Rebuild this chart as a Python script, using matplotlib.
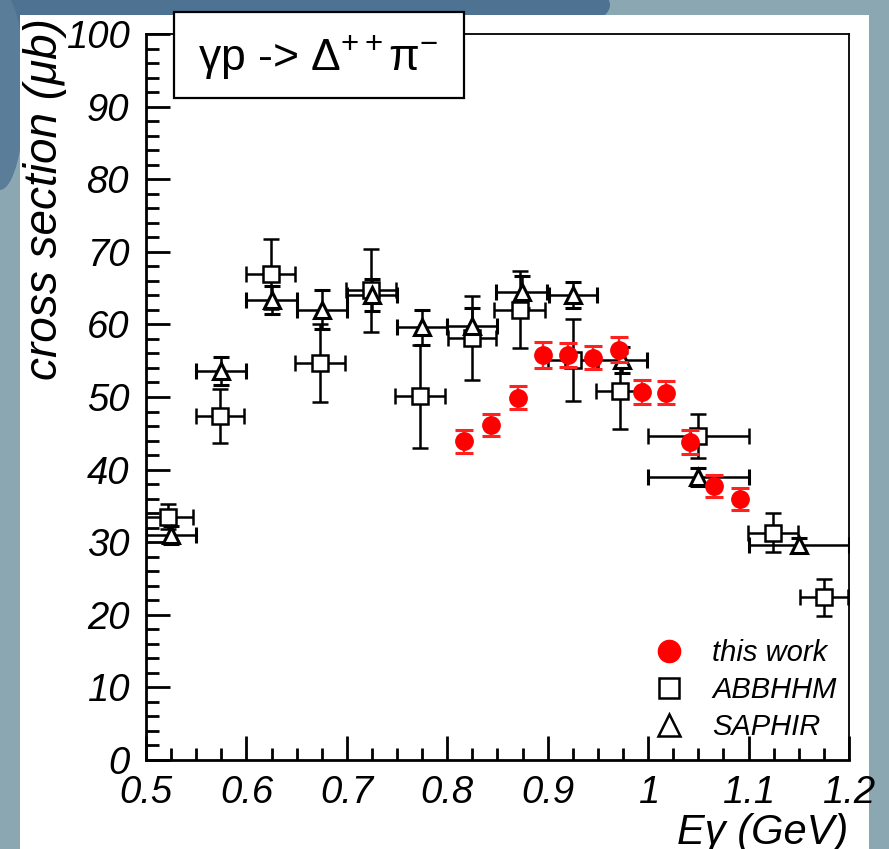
import matplotlib
matplotlib.use("Agg")
import matplotlib.pyplot as plt
from matplotlib.patches import Rectangle, Ellipse
from matplotlib.lines import Line2D
from matplotlib.ticker import MultipleLocator
import numpy as np

plt.rcParams['font.family'] = ['Liberation Sans', 'DejaVu Sans']
plt.rcParams['mathtext.fontset'] = 'custom'
plt.rcParams['mathtext.rm'] = 'Liberation Sans'
plt.rcParams['mathtext.it'] = 'Liberation Sans:italic'

# this work (red)
work_e = [0.817, 0.844, 0.870, 0.895, 0.920, 0.945, 0.971, 0.994, 1.018, 1.042, 1.066, 1.091]
work_xs = [43.9, 46.1, 49.9, 55.8, 55.8, 55.4, 56.5, 50.7, 50.6, 43.8, 37.7, 35.9]
work_err = [1.6, 1.5, 1.6, 1.8, 1.7, 1.6, 1.7, 1.6, 1.6, 1.6, 1.5, 1.5]

# ABBHHM (open squares)
abb_e = [0.522, 0.574, 0.624, 0.673, 0.724, 0.773, 0.825, 0.872, 0.925, 0.972, 1.050, 1.124, 1.175]
abb_xs = [33.5, 47.4, 66.9, 54.7, 64.7, 50.1, 58.1, 62.0, 55.1, 50.8, 44.6, 31.3, 22.4]
abb_ex = [0.025, 0.024, 0.024, 0.025, 0.025, 0.025, 0.024, 0.025, 0.025, 0.024, 0.050, 0.025, 0.024]
abb_ey = [1.7, 3.7, 4.8, 5.4, 5.7, 7.1, 5.8, 5.3, 5.7, 5.2, 3.0, 2.7, 2.6]

# SAPHIR (open triangles)
sap_e = [0.525, 0.575, 0.625, 0.675, 0.725, 0.775, 0.825, 0.874, 0.925, 0.974, 1.050, 1.150]
sap_xs = [31.0, 53.6, 63.4, 62.0, 64.0, 59.6, 59.8, 64.5, 64.0, 55.1, 39.0, 29.6]
sap_ex = [0.025, 0.025, 0.025, 0.025, 0.025, 0.025, 0.025, 0.025, 0.024, 0.025, 0.050, 0.050]
sap_ey = [1.3, 1.9, 1.9, 2.7, 2.2, 2.4, 2.4, 2.2, 1.8, 1.8, 1.2, 1.0]

W, H = 889, 849
fig = plt.figure(figsize=(W / 100, H / 100), dpi=100)
fig.patch.set_facecolor('#8ba8b2')

# slide background swirl + white panel
fig.patches.append(Ellipse((260 / W, 1 - 5 / H), 700 / W, 120 / H, transform=fig.transFigure,
                           facecolor='#4e7292', edgecolor='none', zorder=-2))
fig.patches.append(Ellipse((0, 1 - 90 / H), 50 / W, 200 / H, transform=fig.transFigure,
                           facecolor='#5a7d99', edgecolor='none', zorder=-2))
fig.patches.append(Rectangle((20 / W, 0), 849 / W, 1 - 15 / H, transform=fig.transFigure,
                             facecolor='white', edgecolor='none', zorder=-1))

ax = fig.add_axes([146 / W, 1 - 760 / H, 703 / W, 726 / H])
ax.set_facecolor('white')
ax.set_xlim(0.5, 1.2)
ax.set_ylim(0, 100)

ekw = dict(ecolor='black', elinewidth=1.8, capsize=6, capthick=2.3, linestyle='none')
ax.errorbar(abb_e, abb_xs, xerr=abb_ex, yerr=abb_ey, marker='s', markersize=11,
            markerfacecolor='white', markeredgecolor='black', markeredgewidth=1.8, zorder=3, **ekw)
ax.errorbar(sap_e, sap_xs, xerr=sap_ex, yerr=sap_ey, marker='^', markersize=12,
            markerfacecolor='white', markeredgecolor='black', markeredgewidth=2.2, zorder=3, **ekw)
ax.errorbar(work_e, work_xs, yerr=work_err, marker='o', markersize=12.5, color='#ff0000',
            ecolor='#ff2020', elinewidth=1.7, capsize=6.5, capthick=2.2, linestyle='none', zorder=4)

for sp in ax.spines.values():
    sp.set_linewidth(1.3)
ax.spines['left'].set_linewidth(2)
ax.spines['bottom'].set_linewidth(2)

ax.set_xticks([0.5, 0.6, 0.7, 0.8, 0.9, 1.0, 1.1, 1.2])
ax.set_xticklabels(['0.5', '0.6', '0.7', '0.8', '0.9', '1', '1.1', '1.2'])
ax.xaxis.set_minor_locator(MultipleLocator(0.025))
ax.yaxis.set_major_locator(MultipleLocator(10))
ax.yaxis.set_minor_locator(MultipleLocator(2))
ax.tick_params(which='both', direction='in', top=False, right=False, width=2)
ax.tick_params(which='major', length=17)
ax.tick_params(which='minor', length=9)
ax.tick_params(axis='y', which='major', pad=12)
ax.tick_params(axis='x', which='major', pad=11)
for lab in ax.get_xticklabels() + ax.get_yticklabels():
    lab.set_fontsize(27.5)
    lab.set_fontstyle('italic')

fig.text(45 / W, 1 - 18 / H, 'cross section (μb)', rotation=90, ha='center', va='top',
         fontsize=33, style='italic')
fig.text(848 / W, 1 - 833 / H, 'Eγ (GeV)', ha='right', va='center', fontsize=30, style='italic')

# title box
fig.patches.append(Rectangle((174 / W, 1 - 98 / H), 290 / W, 86 / H, transform=fig.transFigure,
                             facecolor='white', edgecolor='black', linewidth=1.6, zorder=5))
fig.text(318 / W, 1 - 57 / H, r'γp -> Δ${}^{++}$π${}^{-}$', ha='center', va='center',
         fontsize=32, zorder=6)

# legend
handles = [Line2D([], [], marker='o', color='#ff0000', linestyle='none', markersize=16),
           Line2D([], [], marker='s', markerfacecolor='white', markeredgecolor='black',
                  markeredgewidth=1.8, linestyle='none', markersize=15),
           Line2D([], [], marker='^', markerfacecolor='white', markeredgecolor='black',
                  markeredgewidth=1.8, linestyle='none', markersize=16)]
leg = ax.legend(handles, ['this work', 'ABBHHM', 'SAPHIR'], loc='lower left',
                bbox_to_anchor=(625 / W, 1 - 756 / H), bbox_transform=fig.transFigure,
                frameon=False, prop={'size': 21, 'style': 'italic'}, handletextpad=0.5,
                labelspacing=0.32, borderpad=0)

fig.savefig('out.png', dpi=100, facecolor=fig.get_facecolor())
